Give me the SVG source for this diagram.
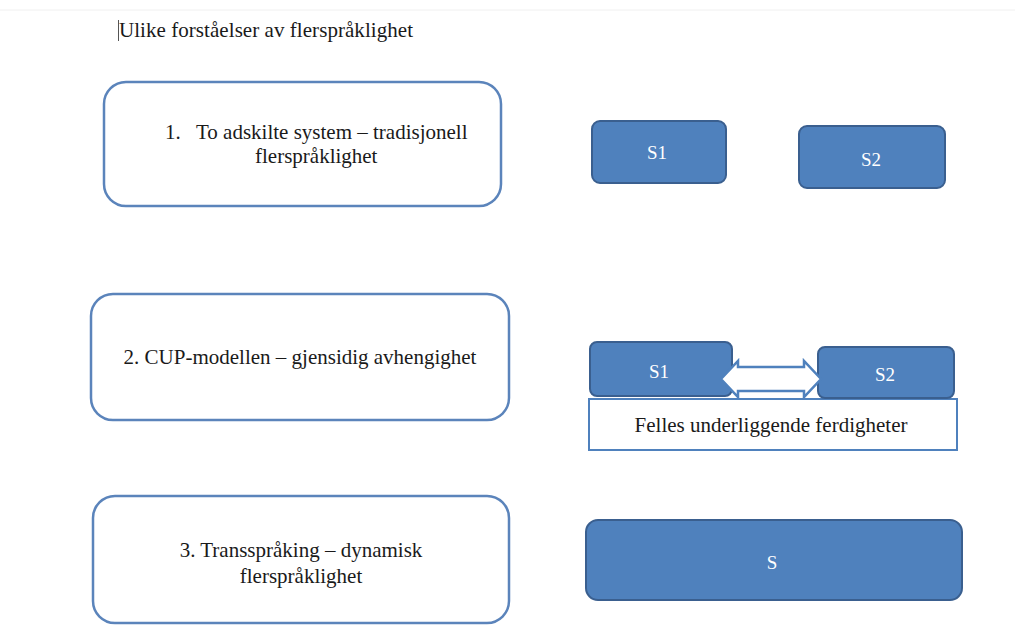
<svg xmlns="http://www.w3.org/2000/svg" width="1015" height="626" viewBox="0 0 1015 626">
<style>
.lbl{font-family:"Liberation Serif","Times New Roman",serif;font-size:21px;fill:#1a1a1a}
.wl{font-family:"Liberation Serif","Times New Roman",serif;font-size:19px;fill:#ffffff;text-anchor:middle}
.outer{fill:#ffffff;stroke:#5b84bb;stroke-width:2.5}
.blue{fill:#4f81bd;stroke:#3a5f8f;stroke-width:2}
</style>
<rect width="1015" height="626" fill="#ffffff"/>
<line x1="0" y1="10" x2="1015" y2="10" stroke="#f0f0f0" stroke-width="1"/>
<g id="title">
<line x1="118.5" y1="20" x2="118.5" y2="41" stroke="#555" stroke-width="1"/>
<text class="lbl" x="119" y="37" font-size="22" textLength="294">Ulike forståelser av flerspråklighet</text>
</g>
<g id="box1">
<rect class="outer" x="104" y="82" width="397" height="124" rx="22"/>
<text class="lbl" x="165" y="139">1.<tspan x="196">To adskilte system – tradisjonell</tspan></text>
<text class="lbl" x="255" y="163">flerspråklighet</text>
</g>
<g id="s1a">
<rect class="blue" x="592" y="121" width="134" height="62" rx="8"/>
<text class="wl" x="657" y="159">S1</text>
</g>
<g id="s2a">
<rect class="blue" x="799" y="126" width="146" height="62" rx="8"/>
<text class="wl" x="871" y="166">S2</text>
</g>
<g id="box2">
<rect class="outer" x="91" y="294" width="418" height="126" rx="22"/>
<text class="lbl" x="300" y="364" text-anchor="middle">2. CUP-modellen – gjensidig avhengighet</text>
</g>
<g id="felles">
<rect x="589" y="399" width="368" height="51" fill="#ffffff" stroke="#4f81bd" stroke-width="2"/>
<text class="lbl" x="771" y="432" text-anchor="middle">Felles underliggende ferdigheter</text>
</g>
<g id="s1b">
<rect class="blue" x="590" y="342" width="142" height="54" rx="7"/>
<text class="wl" x="659" y="378">S1</text>
</g>
<g id="s2b">
<rect class="blue" x="818" y="347" width="136" height="51" rx="7"/>
<text class="wl" x="885" y="381">S2</text>
</g>
<g id="connectors">
<path d="M721,379 L738,361 L738,367 L804,367 L804,361 L821,379 L804,397 L804,391 L738,391 L738,397 Z" fill="#ffffff" stroke="#4f81bd" stroke-width="2.5" stroke-linejoin="miter"/>
</g>
<g id="box3">
<rect class="outer" x="93" y="496" width="416" height="127" rx="22"/>
<text class="lbl" x="301" y="557" text-anchor="middle">3. Transspråking  – dynamisk</text>
<text class="lbl" x="301" y="583" text-anchor="middle">flerspråklighet</text>
</g>
<g id="s">
<rect class="blue" x="586" y="520" width="376" height="80" rx="12"/>
<text class="wl" x="772" y="569">S</text>
</g>
</svg>
